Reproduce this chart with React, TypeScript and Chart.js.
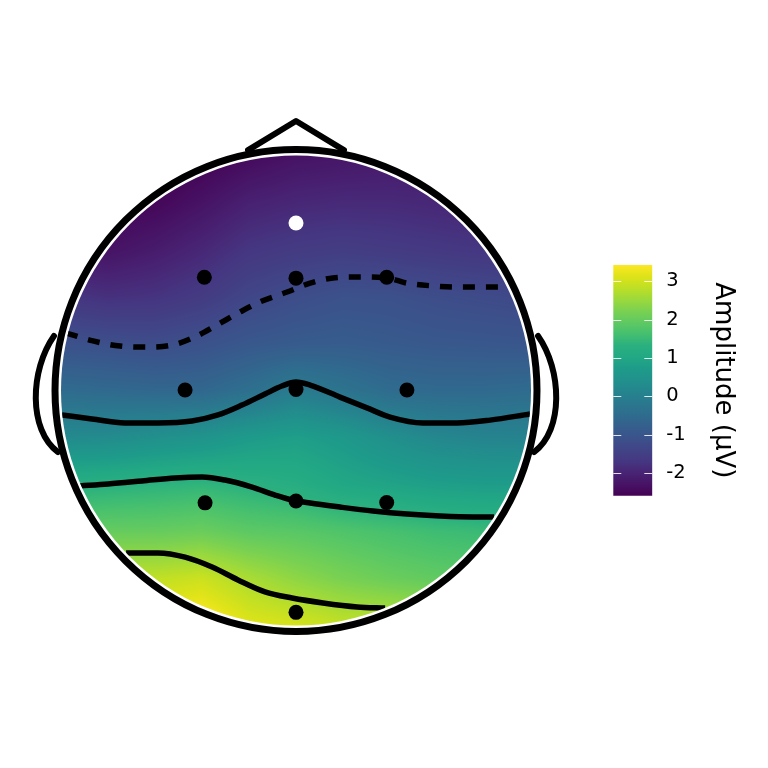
import React, { useEffect, useRef } from 'react';
import { Chart, registerables } from 'chart.js';

Chart.register(...registerables);
Chart.defaults.font.family = "'DejaVu Sans', sans-serif";

// ---------- DATA ----------
const electrodeNames = ['Fpz', 'F3', 'Fz', 'F4', 'C3', 'Cz', 'C4', 'P3', 'Pz', 'P4', 'Oz'];
const electrodeX = [0, -0.39, 0, 0.386, -0.472, 0, 0.472, -0.387, 0, 0.386, 0];
const electrodeY = [0.713, 0.482, 0.478, 0.482, 0.002, 0.004, 0.002, -0.478, -0.47, -0.477, -0.944];

// amplitude surface (rows top -> bottom, columns left -> right)
const gridX = [-1, -0.8, -0.6, -0.4, -0.2, 0, 0.2, 0.4, 0.6, 0.8, 1];
const gridY = [1, 0.8, 0.6, 0.4, 0.2, 0, -0.2, -0.4, -0.6, -0.8, -1];
const amplitudeGrid = [
  [-2.6, -2.65, -2.65, -2.6, -2.45, -2.3, -2.25, -2.2, -2.15, -2.1, -2.05],
  [-2.5, -2.55, -2.5, -2.3, -2.05, -1.95, -1.9, -1.9, -1.95, -2.0, -2.0],
  [-2.3, -2.3, -2.15, -1.95, -1.7, -1.6, -1.55, -1.6, -1.65, -1.7, -1.75],
  [-1.7, -1.8, -1.75, -1.6, -1.35, -1.2, -1.1, -1.12, -1.2, -1.25, -1.3],
  [-1.1, -1.15, -1.2, -1.1, -0.95, -0.88, -0.85, -0.9, -0.95, -0.97, -1.0],
  [-0.5, -0.55, -0.6, -0.6, -0.4, -0.1, -0.3, -0.5, -0.55, -0.55, -0.5],
  [0.25, 0.28, 0.4, 0.5, 0.7, 0.8, 0.65, 0.38, 0.18, 0.1, 0.08],
  [1.25, 1.3, 1.35, 1.4, 1.3, 1.2, 1.0, 0.9, 0.8, 0.75, 0.75],
  [1.95, 2.0, 2.0, 2.05, 1.9, 1.85, 1.75, 1.65, 1.55, 1.5, 1.45],
  [2.8, 2.85, 2.85, 2.95, 2.65, 2.4, 2.2, 2.05, 1.95, 1.9, 1.9],
  [3.4, 3.4, 3.4, 3.55, 3.16, 3.05, 2.87, 2.85, 2.7, 2.6, 2.6],
];

// contour lines (levels -1, 0, 1, 2)
const contourNeg1X = [-0.979, -0.864, -0.749, -0.634, -0.523, -0.43, -0.336, -0.238, -0.153, -0.038, 0.06, 0.157, 0.26, 0.387, 0.472, 0.583, 0.698, 0.796, 0.911];
const contourNeg1Y = [0.245, 0.211, 0.189, 0.185, 0.194, 0.228, 0.279, 0.334, 0.377, 0.419, 0.457, 0.479, 0.483, 0.479, 0.457, 0.445, 0.44, 0.44, 0.44];
const contour0X = [-0.996, -0.868, -0.728, -0.587, -0.443, -0.332, -0.23, -0.132, -0.06, 0, 0.06, 0.187, 0.302, 0.4, 0.54, 0.685, 0.826, 0.996];
const contour0Y = [-0.104, -0.121, -0.138, -0.138, -0.13, -0.104, -0.062, -0.015, 0.019, 0.036, 0.023, -0.028, -0.074, -0.113, -0.138, -0.138, -0.126, -0.1];
const contour1X = [-0.919, -0.8, -0.655, -0.515, -0.4, -0.302, -0.187, -0.089, -0.017, 0.06, 0.187, 0.328, 0.472, 0.613, 0.753, 0.843];
const contour1Y = [-0.406, -0.398, -0.385, -0.372, -0.368, -0.381, -0.411, -0.445, -0.466, -0.479, -0.496, -0.513, -0.526, -0.534, -0.538, -0.538];
const contour2X = [-0.723, -0.587, -0.472, -0.357, -0.247, -0.132, -0.017, 0.115, 0.26, 0.379];
const contour2Y = [-0.691, -0.691, -0.709, -0.751, -0.806, -0.857, -0.883, -0.904, -0.921, -0.926];

const colorbarMin = -2.59;
const colorbarMax = 3.42;
const colorbarTicks = [-2, -1, 0, 1, 2, 3];
const colorbarTitle = 'Amplitude (μV)';

// ---------- STYLE ----------
const VIRIDIS = [
  '#440154', '#471365', '#482475', '#453781', '#414487', '#3b528b', '#355f8d', '#2f6c8e',
  '#2a788e', '#25848e', '#21918c', '#1e9b8a', '#22a884', '#2ab07f', '#44bf70', '#5ec962',
  '#7ad151', '#9bd93c', '#bddf26', '#dde318', '#fde725',
];
const VIRIDIS_RGB = VIRIDIS.map((h) => [
  parseInt(h.slice(1, 3), 16),
  parseInt(h.slice(3, 5), 16),
  parseInt(h.slice(5, 7), 16),
]);

function viridis(t: number): number[] {
  const tt = Math.max(0, Math.min(1, t)) * (VIRIDIS_RGB.length - 1);
  const i = Math.min(VIRIDIS_RGB.length - 2, Math.floor(tt));
  const f = tt - i;
  const a = VIRIDIS_RGB[i];
  const b = VIRIDIS_RGB[i + 1];
  return [a[0] + (b[0] - a[0]) * f, a[1] + (b[1] - a[1]) * f, a[2] + (b[2] - a[2]) * f];
}

function sampleGrid(vx: number, vy: number): number {
  const nx = gridX.length;
  const ny = gridY.length;
  let fx = (vx - gridX[0]) / (gridX[1] - gridX[0]);
  let fy = (vy - gridY[0]) / (gridY[1] - gridY[0]);
  fx = Math.max(0, Math.min(nx - 1, fx));
  fy = Math.max(0, Math.min(ny - 1, fy));
  const i = Math.min(nx - 2, Math.floor(fx));
  const j = Math.min(ny - 2, Math.floor(fy));
  const u = fx - i;
  const w = fy - j;
  const a = amplitudeGrid[j][i];
  const b = amplitudeGrid[j][i + 1];
  const c = amplitudeGrid[j + 1][i];
  const d = amplitudeGrid[j + 1][i + 1];
  return (a * (1 - u) + b * u) * (1 - w) + (c * (1 - u) + d * u) * w;
}

const HEAD_RING_R = 1.0255;
const NOSE = [[-0.204, 1.023], [0, 1.147], [0.204, 1.023]];
const EAR_LEFT = [[-1.03, 0.232], [-1.132, 0.087], [-1.14, -0.168], [-1.013, -0.262]];

const topoPlugin = {
  id: 'topoField',
  beforeDatasetsDraw(chart: any) {
    const { ctx, scales } = chart;
    const xs = scales.x;
    const ys = scales.y;
    const cx = xs.getPixelForValue(0);
    const cy = ys.getPixelForValue(0);
    const r = xs.getPixelForValue(1) - cx;
    const x0 = Math.floor(cx - r) - 2;
    const y0 = Math.floor(cy - r) - 2;
    const size = Math.ceil(2 * r) + 5;
    const off = document.createElement('canvas');
    off.width = size;
    off.height = size;
    const octx = off.getContext('2d')!;
    const img = octx.createImageData(size, size);
    for (let j = 0; j < size; j++) {
      for (let i = 0; i < size; i++) {
        const vx = xs.getValueForPixel(x0 + i + 0.5);
        const vy = ys.getValueForPixel(y0 + j + 0.5);
        if (vx * vx + vy * vy > 1.05) continue;
        const v = sampleGrid(vx, vy);
        const col = viridis((v - colorbarMin) / (colorbarMax - colorbarMin));
        const k = (j * size + i) * 4;
        img.data[k] = col[0];
        img.data[k + 1] = col[1];
        img.data[k + 2] = col[2];
        img.data[k + 3] = 255;
      }
    }
    octx.putImageData(img, 0, 0);
    ctx.save();
    ctx.beginPath();
    ctx.arc(cx, cy, r, 0, Math.PI * 2);
    ctx.clip();
    ctx.drawImage(off, x0, y0);
    ctx.restore();
    ctx.save();
    ctx.beginPath();
    ctx.arc(cx, cy, r, 0, Math.PI * 2);
    ctx.clip();
  },
  afterDatasetsDraw(chart: any) {
    const { ctx, scales } = chart;
    ctx.restore();
    const xs = scales.x;
    const ys = scales.y;
    const px = (v: number) => xs.getPixelForValue(v);
    const py = (v: number) => ys.getPixelForValue(v);
    const cx = px(0);
    const cy = py(0);
    const rr = px(HEAD_RING_R) - cx;
    ctx.save();
    ctx.strokeStyle = '#000';
    ctx.lineJoin = 'round';
    ctx.lineCap = 'round';
    ctx.lineWidth = 7;
    ctx.beginPath();
    ctx.arc(cx, cy, rr, 0, Math.PI * 2);
    ctx.stroke();
    ctx.lineWidth = 6;
    ctx.beginPath();
    NOSE.forEach(([a, b], i) => (i === 0 ? ctx.moveTo(px(a), py(b)) : ctx.lineTo(px(a), py(b))));
    ctx.stroke();
    [1, -1].forEach((s) => {
      const e = EAR_LEFT.map(([a, b]) => [px(a * s), py(b)]);
      ctx.beginPath();
      ctx.moveTo(e[0][0], e[0][1]);
      ctx.bezierCurveTo(e[1][0], e[1][1], e[2][0], e[2][1], e[3][0], e[3][1]);
      ctx.stroke();
    });
    ctx.restore();
  },
};

const cbTickPlugin = {
  id: 'cbTicks',
  afterDatasetsDraw(chart: any) {
    const { ctx, chartArea, scales } = chart;
    ctx.save();
    ctx.strokeStyle = 'rgba(255,255,255,0.85)';
    ctx.lineWidth = 1;
    colorbarTicks.forEach((v) => {
      const y = Math.round(scales.y.getPixelForValue(v)) + 0.5;
      ctx.beginPath();
      ctx.moveTo(chartArea.left, y);
      ctx.lineTo(chartArea.left + 8, y);
      ctx.moveTo(chartArea.right - 8, y);
      ctx.lineTo(chartArea.right, y);
      ctx.stroke();
    });
    ctx.restore();
  },
};

function makeLine(xsArr: number[], ysArr: number[], dashed: boolean) {
  return {
    data: xsArr.map((v, i) => ({ x: v, y: ysArr[i] })),
    showLine: true,
    borderColor: '#000',
    borderWidth: 5.5,
    borderDash: dashed ? [12, 11] : [],
    borderCapStyle: 'butt',
    cubicInterpolationMode: 'monotone',
    pointRadius: 0,
    fill: false,
  };
}

export default function App() {
  const mainRef = useRef<HTMLCanvasElement>(null);
  const cbRef = useRef<HTMLCanvasElement>(null);

  useEffect(() => {
    const lim = 1.1745;
    const main = new Chart(mainRef.current!, {
      type: 'scatter',
      data: {
        datasets: [
          {
            data: electrodeX.map((v, i) => ({ x: v, y: electrodeY[i] })),
            pointRadius: 7.5,
            pointBackgroundColor: electrodeNames.map((n) => (n === 'Fpz' ? '#ffffff' : '#000000')),
            pointBorderWidth: 0,
            showLine: false,
          } as any,
          makeLine(contourNeg1X, contourNeg1Y, true) as any,
          makeLine(contour0X, contour0Y, false) as any,
          makeLine(contour1X, contour1Y, false) as any,
          makeLine(contour2X, contour2Y, false) as any,
        ],
      },
      options: {
        responsive: false,
        maintainAspectRatio: false,
        animation: false,
        events: [],
        layout: { padding: { left: 20, right: 196, top: 114.5, bottom: 101.5 } },
        plugins: { legend: { display: false }, tooltip: { enabled: false } },
        scales: {
          x: { type: 'linear', min: -lim, max: lim, display: false },
          y: { type: 'linear', min: -lim, max: lim, display: false },
        },
      },
      plugins: [topoPlugin],
    });

    const cb = new Chart(cbRef.current!, {
      type: 'bar',
      data: {
        labels: [''],
        datasets: [
          {
            data: [[colorbarMin, colorbarMax]] as any,
            backgroundColor: (c: any) => {
              const area = c.chart.chartArea;
              if (!area) return '#21918c';
              const g = c.chart.ctx.createLinearGradient(0, area.bottom, 0, area.top);
              VIRIDIS.forEach((col, i) => g.addColorStop(i / (VIRIDIS.length - 1), col));
              return g;
            },
            borderWidth: 0,
            barPercentage: 1,
            categoryPercentage: 1,
          },
        ],
      },
      options: {
        responsive: false,
        maintainAspectRatio: false,
        animation: false,
        events: [],
        layout: { padding: { left: 13.3, right: 0, top: 35, bottom: 34.3 } },
        plugins: { legend: { display: false }, tooltip: { enabled: false } },
        scales: {
          x: { display: false },
          y: {
            position: 'right',
            min: colorbarMin,
            max: colorbarMax,
            afterBuildTicks: (axis: any) => {
              axis.ticks = colorbarTicks.map((v) => ({ value: v }));
            },
            afterFit: (axis: any) => {
              axis.width = 115.7;
            },
            grid: { display: false, drawTicks: false },
            border: { display: false },
            ticks: {
              color: '#000',
              font: { size: 19.5 },
              padding: 14,
              callback: (v: any) => String(v),
            },
            title: {
              display: true,
              text: colorbarTitle,
              color: '#000',
              font: { size: 26 },
              padding: { top: 30, bottom: 4 },
            },
          },
        },
      },
      plugins: [cbTickPlugin],
    });

    return () => {
      main.destroy();
      cb.destroy();
    };
  }, []);

  return (
    <div style={{ position: 'absolute', left: 0, top: 0, width: 768, height: 768, background: '#fff' }}>
      <canvas
        ref={mainRef}
        width={768}
        height={768}
        style={{ position: 'absolute', left: 0, top: 0, width: 768, height: 768 }}
      />
      <canvas
        ref={cbRef}
        width={168}
        height={300}
        style={{ position: 'absolute', left: 600, top: 230, width: 168, height: 300 }}
      />
    </div>
  );
}
